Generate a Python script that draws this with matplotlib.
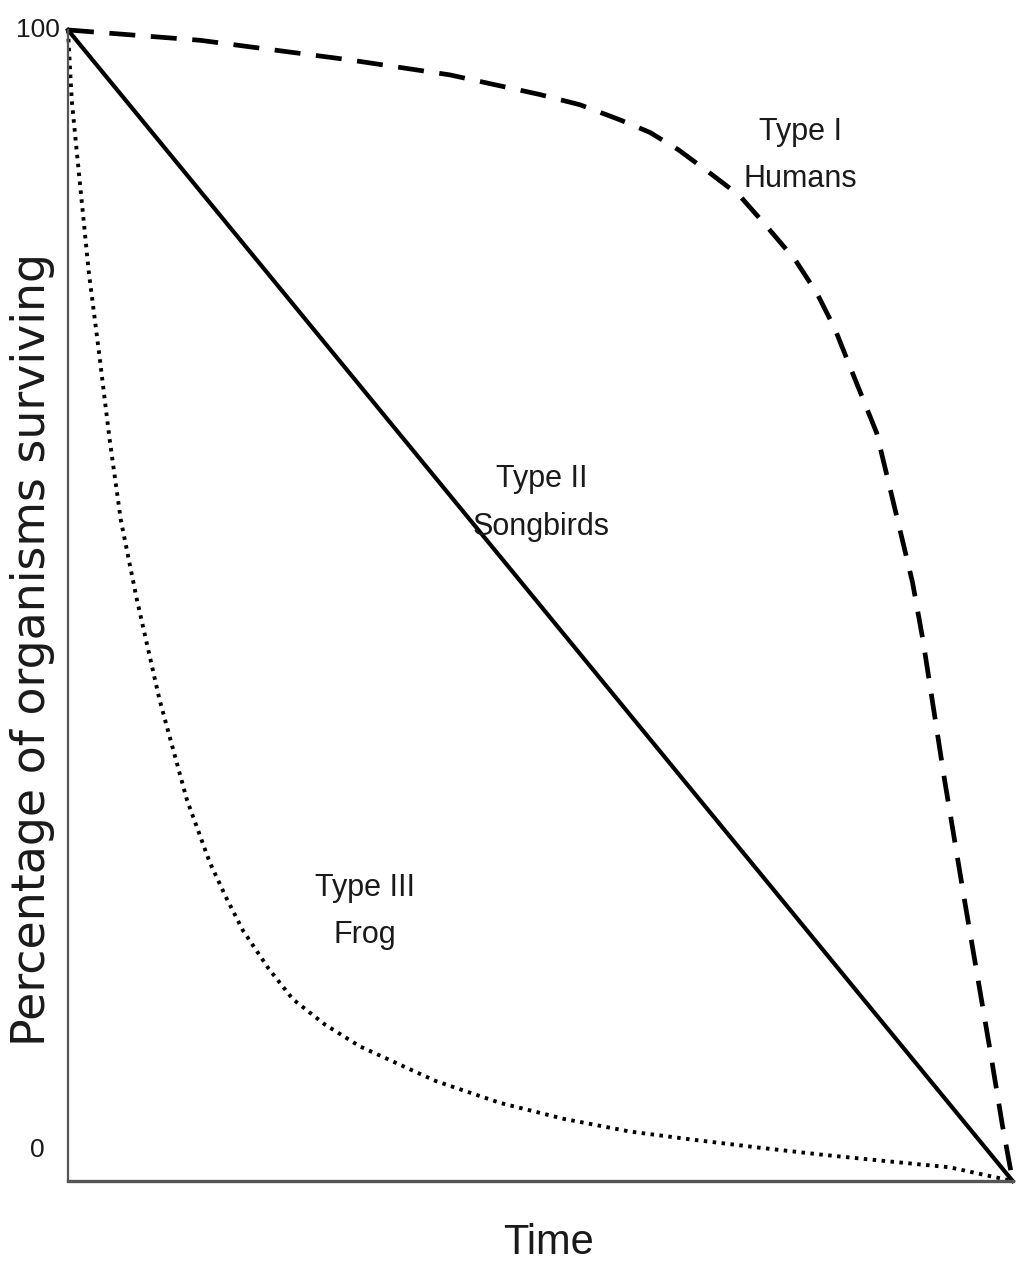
import matplotlib
matplotlib.use('Agg')
import matplotlib.pyplot as plt

# survivorship curves, values (time in %, survivors in %)
type1_x = [0, 14.0, 29.8, 40.4, 49.9, 54.2, 58.4, 61.6, 64.6, 67.9, 71.1, 74.0, 77.0,
           79.3, 81.2, 82.8, 85.6, 87.3, 89.4, 90.5, 92.8, 94.9, 97.6, 98.9, 100]
type1_y = [100, 99.1, 97.4, 96.1, 94.4, 93.5, 92.2, 91.1, 89.6, 87.6, 85.6, 82.9, 80.0,
           77.1, 74.0, 70.7, 65.0, 59.2, 52.0, 47.0, 34.8, 24.4, 11.4, 4.9, 0]

type2_x = [0, 100]
type2_y = [100, 0]

type3_x = [0, 0.4, 1.3, 2.2, 3.3, 4.4, 5.6, 7.3, 9.7, 12.6, 15.0, 16.7, 18.5,
           21.2, 23.8, 27.2, 30.9, 38.9, 45.7, 52.5, 59.5, 66.1, 73.2, 79.7,
           87.0, 93.3, 100]
type3_y = [100, 93.9, 86.4, 79.0, 71.9, 64.5, 57.4, 50.5, 41.8, 33.1, 27.7, 24.7, 21.8,
           18.5, 15.8, 13.6, 11.7, 8.7, 6.8, 5.4, 4.3, 3.6, 2.9, 2.3,
           1.7, 1.2, 0]

labels = ['Type I\nHumans', 'Type II\nSongbirds', 'Type III\nFrog']
label_x = [77.5, 50.1, 31.4]
label_y = [89.1, 58.9, 23.4]

tick_vals = [100, 0]
tick_pos = [1.0, 0.027]

narrow = ['Liberation Sans Narrow', 'Liberation Sans', 'DejaVu Sans']
ink = '#1a1a1a'

fig = plt.figure(figsize=(10.28, 12.69), dpi=100)
ax = fig.add_axes([0.0661, 0.0693, 0.919, 0.9071])

ax.plot(type1_x, type1_y, color='black', lw=3.4, linestyle=(0, (5.5, 3.3)), clip_on=False)
ax.plot(type2_x, type2_y, color='black', lw=3.0, clip_on=False)
ax.plot(type3_x, type3_y, color='black', lw=2.8, linestyle=(0, (0.9, 1.4)), clip_on=False)

for txt, lx, ly in zip(labels, label_x, label_y):
    ax.text(lx, ly, txt, ha='center', va='center', fontsize=22, family=narrow,
            color=ink, linespacing=1.75)

ax.set_xlim(0, 100)
ax.set_ylim(0, 100)

for side in ['top', 'right']:
    ax.spines[side].set_visible(False)
ax.spines['left'].set_color('#555555')
ax.spines['left'].set_linewidth(1.6)
ax.spines['bottom'].set_color('#555555')
ax.spines['bottom'].set_linewidth(2.4)

ax.set_xticks([])
ax.set_yticks([])
for v, p in zip(tick_vals, tick_pos):
    ax.text(-0.032, p, str(v), transform=ax.transAxes, ha='center', va='center',
            family=narrow, fontsize=19, color=ink)

fig.text(548 / 1028, 1 - 1243 / 1269, 'Time', ha='center', va='center',
         family=narrow, fontsize=30, color=ink)
fig.text(33 / 1028, 1 - 650 / 1269, 'Percentage of organisms surviving',
         ha='center', va='center', rotation=90, family='DejaVu Sans',
         fontsize=33, color=ink)

fig.savefig('out.png', dpi=100, facecolor='white')
